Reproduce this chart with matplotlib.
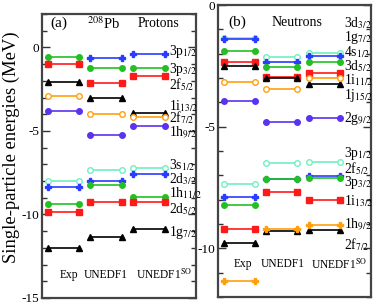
import numpy as np
import matplotlib
matplotlib.use("Agg")
import matplotlib.pyplot as plt
from matplotlib.ticker import MultipleLocator

plt.rcParams['font.family'] = ['Liberation Serif', 'DejaVu Serif']
plt.rcParams['mathtext.fontset'] = 'stix'

models = ["Exp", "UNEDF1", "UNEDF1$^{\\mathrm{SO}}$"]

# ---- Panel (a): protons
p_states = ["3p$_{1/2}$", "3p$_{3/2}$", "2f$_{5/2}$", "1i$_{13/2}$", "2f$_{7/2}$", "1h$_{9/2}$",
            "3s$_{1/2}$", "2d$_{3/2}$", "1h$_{11/2}$", "2d$_{5/2}$", "1g$_{7/2}$"]
p_exp = [np.nan, -0.58, -0.98, -2.08, -2.90, -3.78, -8.00, -8.38, -9.40, -9.84, -12.03]
p_unedf1 = [-0.66, -1.26, -2.14, -3.02, -3.96, -5.24, -7.36, -7.98, -8.26, -9.28, -11.36]
p_unedf1so = [-0.42, -1.22, -1.70, -3.90, -4.18, -4.70, -7.24, -7.60, -8.94, -9.28, -10.86]
p_label_y = [-0.26, -1.34, -2.24, -3.50, -4.22, -5.12, -7.04, -7.88, -8.72, -9.68, -11.06]

# ---- Panel (b): neutrons
n_states = ["3d$_{3/2}$", "1g$_{7/2}$", "4s$_{1/2}$", "3d$_{5/2}$", "1j$_{15/2}$", "1i$_{11/2}$", "2g$_{9/2}$",
            "3p$_{1/2}$", "2f$_{5/2}$", "3p$_{3/2}$", "1i$_{13/2}$", "2f$_{7/2}$", "1h$_{9/2}$"]
n_exp = [-1.35, -1.41, -1.90, -2.36, -2.51, -3.15, -3.93, -7.35, -7.91, -8.22, -9.19, -9.78, -11.36]
n_unedf1 = [-2.14, -2.36, -2.54, -2.97, -2.99, -3.45, -4.81, -6.51, -7.14, -7.16, -7.68, -9.30, -9.22]
n_unedf1so = [-1.99, -2.11, -2.33, -2.81, -3.23, -2.99, -4.66, -6.44, -7.01, -7.11, -8.03, -9.24, -9.03]
n_label_y = {"3d$_{3/2}$": -0.73, "1g$_{7/2}$": -1.34, "4s$_{1/2}$": -1.93, "3d$_{5/2}$": -2.50,
             "1i$_{11/2}$": -3.08, "1j$_{15/2}$": -3.72, "2g$_{9/2}$": -4.65,
             "3p$_{1/2}$": -6.10, "2f$_{5/2}$": -6.71, "3p$_{3/2}$": -7.30, "1i$_{13/2}$": -8.07,
             "1h$_{9/2}$": -9.03, "2f$_{7/2}$": -9.85}

GREEN = '#22c022'
RED = '#ff1a1a'
BLACK = '#000000'
ORANGE = '#ffa010'
BLUE = '#2a3cff'
VIOLET = '#5a32f0'
AQUA = '#6ff0c0'

# style: (color, marker, filled)
p_style = [(BLUE, 'P', True), (GREEN, 'o', True), (RED, 's', True), (BLACK, '^', True),
           (ORANGE, 'o', False), (VIOLET, 'o', True), (AQUA, 'o', False), (BLUE, 'P', True),
           (GREEN, 'o', True), (RED, 's', True), (BLACK, '^', True)]
n_style = [(AQUA, 'o', False), (BLUE, 'P', True), (GREEN, 'o', True), (RED, 's', True),
           (BLACK, '^', True), (ORANGE, 'o', False), (VIOLET, 'o', True),
           (AQUA, 'o', False), (BLUE, 'P', True), (GREEN, 'o', True), (RED, 's', True),
           (BLACK, '^', True), (ORANGE, 'P', True)]

fig = plt.figure(figsize=(3.74, 3.08), dpi=100)
axA = fig.add_axes([0.1123, 0.0325, 0.412, 0.922])
axB = fig.add_axes([0.5829, 0.0357, 0.409, 0.948])

HW = 0.37
centers = [1, 2, 3]


def draw(ax, series, styles):
    for ci, vals in zip(centers, series):
        for v, (c, m, f) in zip(vals, styles):
            if np.isnan(v):
                continue
            ax.plot([ci - HW, ci + HW], [v, v], color=c, lw=1.2, marker=m, ms=4.0,
                    mfc=c if f else 'white', mec=c, mew=1.0, solid_capstyle='butt')


def style_axes(ax, ylim, major):
    ax.set_xlim(0.5, 4.1)
    ax.set_ylim(*ylim)
    ax.set_xticks([])
    ax.yaxis.set_major_locator(MultipleLocator(major))
    ax.yaxis.set_minor_locator(MultipleLocator(1))
    ax.tick_params(axis='y', which='both', direction='in', left=True, right=True,
                   labelsize=9.5, pad=2, color='#333333')
    ax.tick_params(axis='y', which='major', length=6, width=1.0)
    ax.tick_params(axis='y', which='minor', length=3.5, width=1.0)
    for s in ax.spines.values():
        s.set_linewidth(1.6)
        s.set_color('#444444')
    ax.set_yticklabels([("%d" % t) if t != 0 else "0" for t in ax.get_yticks()])


LFS = 9.8
draw(axA, [p_exp, p_unedf1, p_unedf1so], p_style)
style_axes(axA, (-15, 2), 5)
for s, y in zip(p_states, p_label_y):
    axA.text(3.47, y, s, fontsize=LFS, ha='left', va='center')
axA.text(0.9, 1.45, "(a)", fontsize=11, ha='center', va='center')
axA.text(1.94, 1.45, "$^{208}$Pb", fontsize=10.5, ha='center', va='center')
axA.text(3.22, 1.45, "Protons", fontsize=9.8, ha='center', va='center')
for x, m in zip([1.14, 2.0, 3.35], models):
    axA.text(x, -13.64, m, fontsize=8.3, ha='center', va='center')
axA.set_ylabel("Single-particle energies (MeV)", fontsize=13.4, labelpad=1)
axA.yaxis.set_label_coords(-0.14, 0.53)

draw(axB, [n_exp, n_unedf1, n_unedf1so], n_style)
style_axes(axB, (-12, 0), 5)
for s, y in n_label_y.items():
    axB.text(3.47, y, s, fontsize=LFS, ha='left', va='center')
axB.text(0.95, -0.70, "(b)", fontsize=11, ha='center', va='center')
axB.text(2.35, -0.70, "Neutrons", fontsize=10, ha='center', va='center')
for x, m in zip([1.09, 2.02, 3.34], models):
    axB.text(x, -10.66, m, fontsize=8.3, ha='center', va='center')

fig.savefig("out.png", dpi=100)
